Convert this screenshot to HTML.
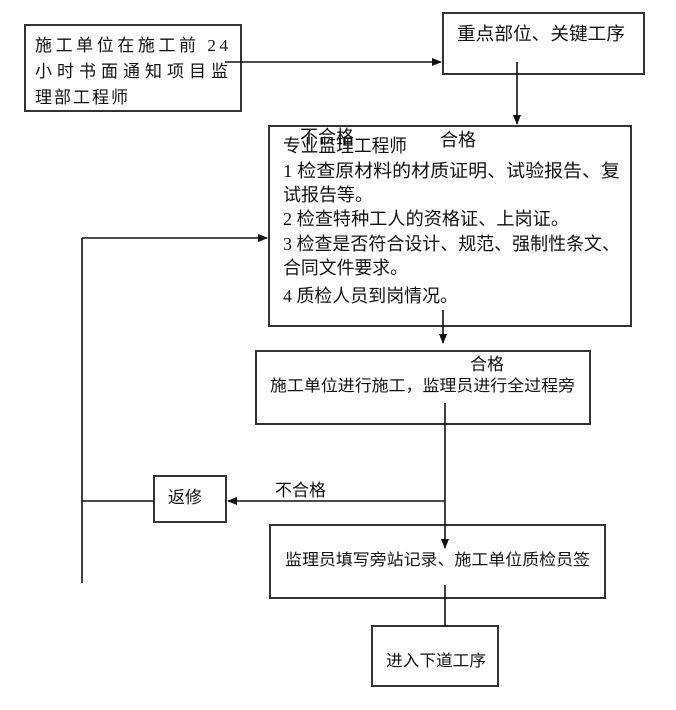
<!DOCTYPE html>
<html><head><meta charset="utf-8"><style>
html,body{margin:0;padding:0;background:#fff;}
svg{display:block;}
text{font-family:"Liberation Serif","Noto Sans CJK SC",serif;fill:#111;}
</style></head><body>
<svg width="676" height="710" viewBox="0 0 676 710" xmlns="http://www.w3.org/2000/svg">
<defs><marker id="a" markerWidth="10" markerHeight="10" refX="9" refY="5" orient="auto" markerUnits="userSpaceOnUse"><path d="M0,1 L10,5 L0,9 Z" fill="#111"/></marker></defs>
<g fill="none" stroke="#333" stroke-width="2">
<rect x="25" y="25" width="216" height="86"/>
<rect x="443" y="13" width="201" height="61"/>
<rect x="269" y="126" width="362" height="200"/>
<rect x="256" y="351" width="334" height="73"/>
<rect x="154" y="476" width="72" height="46"/>
<rect x="270" y="525" width="335" height="73"/>
<rect x="372" y="626" width="126" height="60"/>
</g>
<g stroke="#111" stroke-width="1.6" fill="none">
<line x1="225" y1="62" x2="441" y2="62" marker-end="url(#a)"/>
<line x1="517" y1="62" x2="517" y2="124" marker-end="url(#a)"/>
<line x1="443" y1="310" x2="443" y2="343" marker-end="url(#a)"/>
<line x1="445" y1="403" x2="445" y2="548" marker-end="url(#a)"/>
<line x1="445" y1="501" x2="228" y2="501" marker-end="url(#a)"/>
<line x1="445" y1="585" x2="445" y2="626"/>
<line x1="82" y1="501" x2="154" y2="501"/>
<line x1="82" y1="238" x2="82" y2="583"/>
<line x1="82" y1="238" x2="267" y2="238" marker-end="url(#a)"/>
</g>
<g font-size="17">
<text x="35" y="51" textLength="193" lengthAdjust="spacing">施工单位在施工前 24</text>
<text x="35" y="77" textLength="193" lengthAdjust="spacing">小时书面通知项目监</text>
<text x="35" y="103" textLength="93" lengthAdjust="spacing">理部工程师</text>
<text x="457" y="40" font-size="18" textLength="168" lengthAdjust="spacingAndGlyphs">重点部位、关键工序</text>
</g>
<g font-size="18">
<text x="300" y="143">不合格</text>
<text x="440" y="146">合格</text>
<text x="283" y="152" textLength="124" lengthAdjust="spacingAndGlyphs">专业监理工程师</text>
<text x="283" y="177" textLength="337" lengthAdjust="spacingAndGlyphs">1 检查原材料的材质证明、试验报告、复</text>
<text x="283" y="201" textLength="90" lengthAdjust="spacingAndGlyphs">试报告等。</text>
<text x="283" y="225" textLength="286" lengthAdjust="spacingAndGlyphs">2 检查特种工人的资格证、上岗证。</text>
<text x="283" y="250" textLength="337" lengthAdjust="spacingAndGlyphs">3 检查是否符合设计、规范、强制性条文、</text>
<text x="283" y="274" textLength="125" lengthAdjust="spacingAndGlyphs">合同文件要求。</text>
<text x="283" y="302" textLength="175" lengthAdjust="spacingAndGlyphs">4 质检人员到岗情况。</text>
<text x="470" y="370" font-size="17">合格</text>
<text x="270" y="391" font-size="16" textLength="305" lengthAdjust="spacingAndGlyphs">施工单位进行施工，监理员进行全过程旁</text>
<text x="275" y="496" font-size="17">不合格</text>
<text x="168" y="503" font-size="17">返修</text>
<text x="285" y="565" font-size="16" textLength="305" lengthAdjust="spacingAndGlyphs">监理员填写旁站记录、施工单位质检员签</text>
<text x="386" y="666" font-size="16" textLength="100" lengthAdjust="spacingAndGlyphs">进入下道工序</text>
</g>
</svg>
</body></html>
